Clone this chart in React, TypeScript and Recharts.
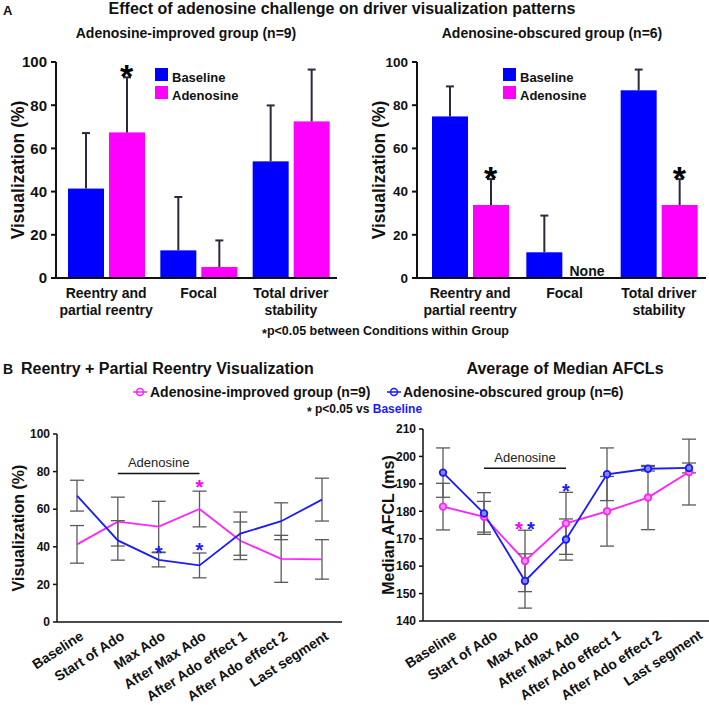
import React from 'react';
import {
  BarChart,
  Bar,
  XAxis,
  YAxis,
  ErrorBar,
  LineChart,
  Line,
  ReferenceDot,
  ReferenceLine,
} from 'recharts';

const FONT = '"Liberation Sans", Arial, Helvetica, sans-serif';
const BLUE = '#0000ff';
const MAGENTA = '#ff00ff';
const LINE_BLUE = '#1a1aff';
const LINE_MAGENTA = '#ff22ff';
const INK = '#111111';

// ---------- Panel A data ----------
const driverCategories = ['Reentry and\npartial reentry', 'Focal', 'Total driver\nstability'];
const driverYTicks = [0, 20, 40, 60, 80, 100];
const improvedBaseline = [41.4, 12.8, 54.0];
const improvedBaselineSD = [25.7, 24.7, 25.9];
const improvedAdenosine = [67.4, 5.1, 72.5];
const improvedAdenosineSD = [25.5, 12.3, 24.0];
const improvedSignificant = [true, false, false];
const obscuredBaseline = [74.8, 11.9, 86.9];
const obscuredBaselineSD = [13.9, 17.0, 9.6];
const obscuredAdenosine = [33.8, 0, 33.8];
const obscuredAdenosineSD = [12.0, 0, 12.0];
const obscuredSignificant = [true, false, true];

// ---------- Panel B data ----------
const timepoints = [
  'Baseline',
  'Start of Ado',
  'Max Ado',
  'After Max Ado',
  'After Ado effect 1',
  'After Ado effect 2',
  'Last segment',
];
const adenosinePeriod = ['Start of Ado', 'After Max Ado'];

const reentryYTicks = [0, 20, 40, 60, 80, 100];
const reentryImproved = [41.3, 53.4, 50.7, 60.1, 43.2, 33.6, 33.3];
const reentryImprovedSD = [10.0, 13.0, 13.5, 9.5, 10.0, 12.5, 10.5];
const reentryObscured = [67.2, 43.4, 33.1, 30.1, 47.0, 53.6, 65.1];
const reentryObscuredSD = [8.2, 10.5, 3.8, 6.6, 11.5, 9.8, 11.4];
const reentryStars = [
  { t: 'Max Ado', y: 39, group: 'obscured' },
  { t: 'After Max Ado', y: 41, group: 'obscured' },
  { t: 'After Max Ado', y: 74.2, group: 'improved' },
];
const reentryAdoLevel = 79;
const reentryAdoTextLevel = 84.6;

const afclYTicks = [140, 150, 160, 170, 180, 190, 200, 210];
const afclImproved = [181.7, 178.0, 161.9, 175.6, 180.0, 185.0, 194.3];
const afclImprovedSD = [8.5, 5.6, 11.2, 11.3, 12.7, 11.7, 12.0];
const afclObscured = [194.1, 179.2, 154.6, 169.7, 193.5, 195.5, 195.8];
const afclObscuredSD = [9.0, 7.6, 9.9, 7.5, 9.6, 0.8, 1.8];
const afclStars = [
  { t: 'Max Ado', y: 175.4, group: 'improved' },
  { t: 'Max Ado', y: 175.4, group: 'obscured' },
  { t: 'After Max Ado', y: 189, group: 'obscured' },
];
const afclAdoLevel = 195.7;
const afclAdoTextLevel = 199.6;

// ---------- helpers ----------
type TxtProps = {
  x: number;
  y: number;
  size: number;
  anchor?: 'start' | 'middle' | 'end';
  weight?: number;
  color?: string;
  children: React.ReactNode;
};
const Txt = ({ x, y, size, anchor = 'middle', weight = 700, color = INK, children }: TxtProps) => (
  <div
    style={{
      position: 'absolute',
      left: x,
      top: y,
      transform: `translate(${anchor === 'middle' ? '-50%' : anchor === 'end' ? '-100%' : '0'}, -50%)`,
      fontFamily: FONT,
      fontWeight: weight,
      fontSize: size,
      lineHeight: 1,
      whiteSpace: 'nowrap',
      color,
    }}
  >
    {children}
  </div>
);

const starShape = (color: string, size: number, dx = 0) => (p: any) => (
  <text
    x={p.cx + dx}
    y={p.cy + size * 0.58}
    textAnchor="middle"
    fill={color}
    fontSize={size}
    fontWeight={700}
    fontFamily={FONT}
  >
    *
  </text>
);

const yLabel = (text: string, xOff: number, size: number) => (p: any) => {
  const vb = p.viewBox || {};
  const cx = (vb.x || 0) + xOff;
  const cy = (vb.y || 0) + (vb.height || 0) / 2;
  return (
    <text
      x={cx}
      y={cy}
      transform={`rotate(-90 ${cx} ${cy})`}
      textAnchor="middle"
      dominantBaseline="central"
      fill={INK}
      fontSize={size}
      fontWeight={700}
      fontFamily={FONT}
    >
      {text}
    </text>
  );
};

const BarTick = (p: any) => {
  const lines = String(p.payload.value).split('\n');
  return (
    <g>
      {lines.map((ln, i) => (
        <text
          key={i}
          x={p.x}
          y={p.y + 15 + i * 17}
          textAnchor="middle"
          dominantBaseline="central"
          fill={INK}
          fontSize={14}
          fontWeight={700}
          fontFamily={FONT}
        >
          {ln}
        </text>
      ))}
    </g>
  );
};

const makeRotTick = (shift: number) => (p: any) => {
  const ax = p.x + shift;
  const ay = p.y + 8;
  return (
    <text
      x={ax}
      y={ay}
      dy="0.72em"
      textAnchor="end"
      transform={`rotate(-33 ${ax} ${ay})`}
      fill={INK}
      fontSize={14}
      fontWeight={700}
      fontFamily={FONT}
    >
      {p.payload.value}
    </text>
  );
};

// bar with an upward-only standard-deviation whisker, sized by the bar's own scale
const barWithSD = (valueKey: string, sdKey: string) => (p: any) => {
  const { x, y, width, height, fill, payload } = p;
  const v = payload[valueKey];
  const sd = payload[sdKey];
  const k = v > 0 && height > 0 ? height / v : 0;
  const cx = x + width / 2;
  const top = y - sd * k;
  return (
    <g>
      {height > 0 ? <rect x={x} y={y} width={width} height={height} fill={fill} /> : null}
      {sd > 0 && k > 0 ? (
        <g stroke="#2a2a3a" strokeWidth={2}>
          <line x1={cx} y1={y} x2={cx} y2={top} />
          <line x1={cx - 4} y1={top} x2={cx + 4} y2={top} />
        </g>
      ) : null}
    </g>
  );
};

// ---------- Panel A chart ----------
type DriverProps = {
  left: number;
  width: number;
  yAxisWidth: number;
  padLeft: number;
  marginRight: number;
  labelX: number;
  tickSize: number;
  base: number[];
  baseSD: number[];
  ado: number[];
  adoSD: number[];
  sig: boolean[];
};

function DriverChart({ left, width, yAxisWidth, padLeft, marginRight, labelX, tickSize, base, baseSD, ado, adoSD, sig }: DriverProps) {
  const data = driverCategories.map((cat, i) => ({
    cat,
    base: base[i],
    baseSD: baseSD[i],
    ado: ado[i],
    adoSD: adoSD[i],
  }));
  return (
    <div style={{ position: 'absolute', left, top: 0 }}>
      <BarChart
        width={width}
        height={340}
        data={data}
        margin={{ top: 62, right: marginRight, bottom: 0, left: 0 }}
        barSize={36}
        barGap={5}
      >
        <XAxis
          dataKey="cat"
          height={62}
          interval={0}
          tickLine={false}
          tickSize={0}
          tickMargin={0}
          axisLine={{ stroke: INK, strokeWidth: 2 }}
          padding={{ left: padLeft, right: 0 }}
          tick={<BarTick />}
        />
        <YAxis
          width={yAxisWidth}
          domain={[0, 100]}
          ticks={driverYTicks}
          interval={0}
          tickSize={5}
          tickMargin={4}
          axisLine={{ stroke: INK, strokeWidth: 2 }}
          tickLine={{ stroke: INK, strokeWidth: 2 }}
          tick={{ fill: INK, fontSize: tickSize, fontWeight: 700, fontFamily: FONT }}
          label={yLabel('Visualization (%)', labelX, 17.5)}
        />
        <Bar dataKey="base" fill={BLUE} isAnimationActive={false} shape={barWithSD('base', 'baseSD')} />
        <Bar dataKey="ado" fill={MAGENTA} isAnimationActive={false} shape={barWithSD('ado', 'adoSD')} />
        {driverCategories.map((cat, i) =>
          sig[i] ? (
            <ReferenceDot
              key={'s' + i}
              x={cat}
              y={ado[i] + adoSD[i] + 4}
              r={0}
              shape={starShape('#000', 34, 20.5)}
            />
          ) : null
        )}
        {driverCategories.map((cat, i) =>
          ado[i] === 0 ? (
            <ReferenceDot
              key={'n' + i}
              x={cat}
              y={0}
              r={0}
              shape={(p: any) => (
                <text
                  x={p.cx + 5}
                  y={p.cy - 7}
                  dominantBaseline="central"
                  fill={INK}
                  fontSize={14}
                  fontWeight={700}
                  fontFamily={FONT}
                >
                  None
                </text>
              )}
            />
          ) : null
        )}
      </BarChart>
    </div>
  );
}

// ---------- Panel B chart ----------
type TimeProps = {
  left: number;
  width: number;
  yAxisWidth: number;
  marginTop: number;
  marginRight: number;
  xAxisHeight: number;
  labelX: number;
  label: string;
  tickShift: number;
  domain: [number, number];
  ticks: number[];
  imp: number[];
  impSD: number[];
  obs: number[];
  obsSD: number[];
  dots: boolean;
  stars: { t: string; y: number; group: string }[];
  adoLevel: number;
  adoTextLevel: number;
};

function TimeChart(props: TimeProps) {
  const {
    left, width, yAxisWidth, marginTop, marginRight, xAxisHeight, labelX, label, tickShift, domain, ticks,
    imp, impSD, obs, obsSD, dots, stars, adoLevel, adoTextLevel,
  } = props;
  const data = timepoints.map((t, i) => ({
    t,
    imp: imp[i],
    impSD: impSD[i],
    obs: obs[i],
    obsSD: obsSD[i],
  }));
  const midPoint = timepoints[(timepoints.indexOf(adenosinePeriod[0]) + timepoints.indexOf(adenosinePeriod[1])) / 2];
  const RotTick = makeRotTick(tickShift);
  return (
    <div style={{ position: 'absolute', left, top: 400 }}>
      <LineChart
        width={width}
        height={305}
        data={data}
        margin={{ top: marginTop, right: marginRight, bottom: 0, left: 0 }}
      >
        <XAxis
          dataKey="t"
          height={xAxisHeight}
          interval={0}
          tickLine={false}
          tickSize={0}
          tickMargin={0}
          axisLine={{ stroke: INK, strokeWidth: 1.5 }}
          padding={{ left: 20, right: 20 }}
          tick={<RotTick />}
        />
        <YAxis
          width={yAxisWidth}
          domain={domain}
          ticks={ticks}
          interval={0}
          tickSize={4}
          tickMargin={3}
          axisLine={{ stroke: INK, strokeWidth: 1.5 }}
          tickLine={{ stroke: INK, strokeWidth: 1.5 }}
          tick={{ fill: INK, fontSize: 12, fontWeight: 700, fontFamily: FONT }}
          label={yLabel(label, labelX, 16)}
        />
        <ReferenceLine
          segment={[
            { x: adenosinePeriod[0], y: adoLevel },
            { x: adenosinePeriod[1], y: adoLevel },
          ]}
          stroke={INK}
          strokeWidth={1.5}
        />
        <ReferenceDot
          x={midPoint}
          y={adoTextLevel}
          r={0}
          shape={(p: any) => (
            <text
              x={p.cx}
              y={p.cy}
              textAnchor="middle"
              dominantBaseline="central"
              fill="#222"
              fontSize={13}
              fontFamily={FONT}
            >
              Adenosine
            </text>
          )}
        />
        <Line
          dataKey="imp"
          stroke={LINE_MAGENTA}
          strokeWidth={1.8}
          isAnimationActive={false}
          dot={dots ? { r: 3.3, stroke: LINE_MAGENTA, strokeWidth: 1.8, fill: '#ff99ff' } : false}
          activeDot={false}
        >
          <ErrorBar dataKey="impSD" width={7} stroke="#5a5a5a" strokeWidth={1.3} direction="y" />
        </Line>
        <Line
          dataKey="obs"
          stroke={LINE_BLUE}
          strokeWidth={1.8}
          isAnimationActive={false}
          dot={dots ? { r: 3.3, stroke: LINE_BLUE, strokeWidth: 1.8, fill: '#8888ff' } : false}
          activeDot={false}
        >
          <ErrorBar dataKey="obsSD" width={7} stroke="#5a5a5a" strokeWidth={1.3} direction="y" />
        </Line>
        {stars.map((s, i) => {
          const same = stars.filter((o) => o.t === s.t && Math.abs(o.y - s.y) < 1);
          const dx = same.length > 1 ? (s.group === 'improved' ? -6 : 6) : 0;
          return (
            <ReferenceDot
              key={'st' + i}
              x={s.t}
              y={s.y}
              r={0}
              shape={starShape(s.group === 'improved' ? MAGENTA : LINE_BLUE, 20, dx)}
            />
          );
        })}
      </LineChart>
    </div>
  );
}

const LegendIcon = ({ color }: { color: string }) => (
  <svg width={14} height={10} style={{ position: 'absolute', left: 0, top: -5 }}>
    <line x1={0} y1={5} x2={14} y2={5} stroke={color} strokeWidth={1.5} />
    <circle cx={7} cy={5} r={3.5} fill="none" stroke={color} strokeWidth={1.5} />
  </svg>
);

export default function App() {
  return (
    <div
      style={{
        position: 'absolute',
        left: 0,
        top: 0,
        width: 709,
        height: 705,
        background: '#fff',
        overflow: 'hidden',
      }}
    >
      <DriverChart
        left={0}
        width={345}
        yAxisWidth={56}
        padLeft={4}
        marginRight={8}
        labelX={18}
        tickSize={15}
        base={improvedBaseline}
        baseSD={improvedBaselineSD}
        ado={improvedAdenosine}
        adoSD={improvedAdenosineSD}
        sig={improvedSignificant}
      />
      <DriverChart
        left={350}
        width={359}
        yAxisWidth={67}
        padLeft={6}
        marginRight={3}
        labelX={29}
        tickSize={13.5}
        base={obscuredBaseline}
        baseSD={obscuredBaselineSD}
        ado={obscuredAdenosine}
        adoSD={obscuredAdenosineSD}
        sig={obscuredSignificant}
      />
      <TimeChart
        left={0}
        width={350}
        yAxisWidth={57}
        marginTop={34}
        marginRight={8}
        xAxisHeight={83}
        labelX={18}
        label="Visualization (%)"
        tickShift={2}
        domain={[0, 100]}
        ticks={reentryYTicks}
        imp={reentryImproved}
        impSD={reentryImprovedSD}
        obs={reentryObscured}
        obsSD={reentryObscuredSD}
        dots={false}
        stars={reentryStars}
        adoLevel={reentryAdoLevel}
        adoTextLevel={reentryAdoTextLevel}
      />
      <TimeChart
        left={350}
        width={359}
        yAxisWidth={73}
        marginTop={29}
        marginRight={0}
        xAxisHeight={84}
        labelX={38}
        label="Median AFCL (ms)"
        tickShift={9}
        domain={[140, 210]}
        ticks={afclYTicks}
        imp={afclImproved}
        impSD={afclImprovedSD}
        obs={afclObscured}
        obsSD={afclObscuredSD}
        dots={true}
        stars={afclStars}
        adoLevel={afclAdoLevel}
        adoTextLevel={afclAdoTextLevel}
      />

      {/* Panel A texts */}
      <Txt x={3} y={10} size={13} anchor="start">A</Txt>
      <Txt x={342} y={9} size={16}>Effect of adenosine challenge on driver visualization patterns</Txt>
      <Txt x={186} y={33} size={14}>Adenosine-improved group (n=9)</Txt>
      <Txt x={552} y={33} size={14}>Adenosine-obscured group (n=6)</Txt>

      {[155, 503].map((lx) => (
        <React.Fragment key={lx}>
          <div style={{ position: 'absolute', left: lx, top: 68, width: 13, height: 13, background: BLUE }} />
          <div style={{ position: 'absolute', left: lx, top: 86, width: 13, height: 13, background: MAGENTA }} />
          <Txt x={lx + 17} y={77} size={13} anchor="start">Baseline</Txt>
          <Txt x={lx + 17} y={95} size={13} anchor="start">Adenosine</Txt>
        </React.Fragment>
      ))}

      <Txt x={262} y={331} size={12.5} anchor="start">
        <span style={{ position: 'relative', top: 3 }}>*</span>p&lt;0.05 between Conditions within Group
      </Txt>

      {/* Panel B texts */}
      <Txt x={3} y={369} size={14} anchor="start">B</Txt>
      <Txt x={21} y={369} size={16} anchor="start">Reentry + Partial Reentry Visualization</Txt>
      <Txt x={565} y={369} size={16}>Average of Median AFCLs</Txt>

      <div style={{ position: 'absolute', left: 133, top: 392 }}>
        <LegendIcon color={LINE_MAGENTA} />
      </div>
      <Txt x={150} y={392} size={14} anchor="start">Adenosine-improved group (n=9)</Txt>
      <div style={{ position: 'absolute', left: 387, top: 392 }}>
        <LegendIcon color={LINE_BLUE} />
      </div>
      <Txt x={403} y={392} size={14} anchor="start">Adenosine-obscured group (n=6)</Txt>

      <Txt x={307} y={409} size={12} anchor="start">
        <span style={{ position: 'relative', top: 3 }}>*</span> p&lt;0.05 vs <span style={{ color: LINE_BLUE }}>Baseline</span>
      </Txt>
    </div>
  );
}
